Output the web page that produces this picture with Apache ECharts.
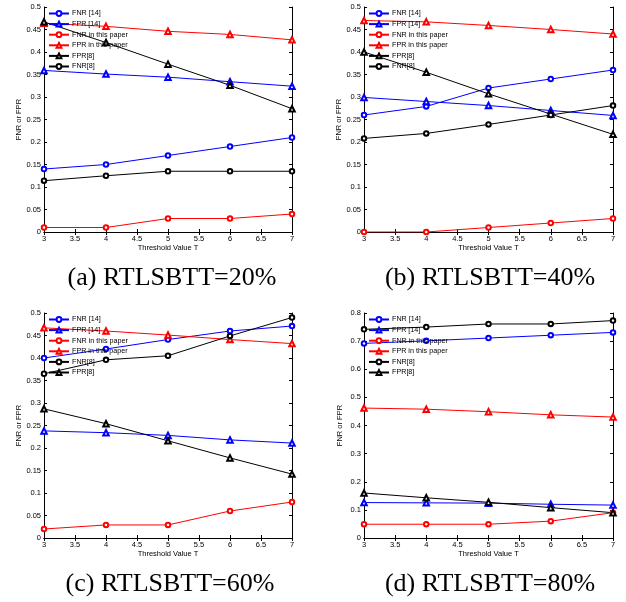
<!DOCTYPE html>
<html><head><meta charset="utf-8">
<script src="https://cdn.jsdelivr.net/npm/echarts@6/dist/echarts.min.js"></script>
<style>html,body{margin:0;padding:0;background:#fff}#c{width:626px;height:602px}</style>
</head><body><div id="c"></div>
<script>
const xValues = [3, 4, 5, 6, 7];
const xTicks = [3, 3.5, 4, 4.5, 5, 5.5, 6, 6.5, 7];
const captions = ['(a) RTLSBTT=20%', '(b) RTLSBTT=40%', '(c) RTLSBTT=60%', '(d) RTLSBTT=80%'];

// Panel (a) RTLSBTT=20%
const a_fnr14 = [0.14, 0.15, 0.17, 0.19, 0.21];
const a_fpr14 = [0.359, 0.351, 0.344, 0.334, 0.324];
const a_fnrPaper = [0.01, 0.01, 0.03, 0.03, 0.04];
const a_fprPaper = [0.464, 0.457, 0.446, 0.439, 0.427];
const a_fpr8 = [0.467, 0.421, 0.373, 0.326, 0.274];
const a_fnr8 = [0.114, 0.125, 0.135, 0.135, 0.135];

// Panel (b) RTLSBTT=40%
const b_fnr14 = [0.26, 0.279, 0.32, 0.34, 0.36];
const b_fpr14 = [0.299, 0.29, 0.281, 0.27, 0.259];
const b_fnrPaper = [0, 0, 0.01, 0.02, 0.03];
const b_fprPaper = [0.47, 0.467, 0.459, 0.45, 0.44];
const b_fpr8 = [0.4, 0.355, 0.307, 0.262, 0.217];
const b_fnr8 = [0.208, 0.219, 0.239, 0.26, 0.281];

// Panel (c) RTLSBTT=60%
const c_fnr14 = [0.4, 0.42, 0.441, 0.46, 0.471];
const c_fpr14 = [0.238, 0.234, 0.228, 0.218, 0.211];
const c_fnrPaper = [0.02, 0.029, 0.029, 0.06, 0.08];
const c_fprPaper = [0.467, 0.46, 0.451, 0.441, 0.432];
const c_fnr8 = [0.365, 0.396, 0.405, 0.449, 0.49];
const c_fpr8 = [0.287, 0.254, 0.216, 0.178, 0.142];

// Panel (d) RTLSBTT=80%
const d_fnr14 = [0.692, 0.701, 0.711, 0.721, 0.731];
const d_fpr14 = [0.126, 0.125, 0.124, 0.12, 0.117];
const d_fnrPaper = [0.049, 0.049, 0.049, 0.06, 0.09];
const d_fprPaper = [0.462, 0.458, 0.449, 0.438, 0.43];
const d_fnr8 = [0.742, 0.75, 0.761, 0.761, 0.773];
const d_fpr8 = [0.16, 0.143, 0.127, 0.108, 0.09];

const yMax = [0.5, 0.5, 0.5, 0.8];
const yStep = [0.05, 0.05, 0.05, 0.1];

const N_FNR14 = 'FNR [14]', N_FPR14 = 'FPR [14]', N_FNRP = 'FNR in this paper', N_FPRP = 'FPR in this paper', N_FPR8 = 'FPR[8]', N_FNR8 = 'FNR[8]';

const panels = [
  {data: [[N_FNR14, a_fnr14], [N_FPR14, a_fpr14], [N_FNRP, a_fnrPaper], [N_FPRP, a_fprPaper], [N_FPR8, a_fpr8], [N_FNR8, a_fnr8]]},
  {data: [[N_FNR14, b_fnr14], [N_FPR14, b_fpr14], [N_FNRP, b_fnrPaper], [N_FPRP, b_fprPaper], [N_FPR8, b_fpr8], [N_FNR8, b_fnr8]]},
  {data: [[N_FNR14, c_fnr14], [N_FPR14, c_fpr14], [N_FNRP, c_fnrPaper], [N_FPRP, c_fprPaper], [N_FNR8, c_fnr8], [N_FPR8, c_fpr8]]},
  {data: [[N_FNR14, d_fnr14], [N_FPR14, d_fpr14], [N_FNRP, d_fnrPaper], [N_FPRP, d_fprPaper], [N_FNR8, d_fnr8], [N_FPR8, d_fpr8]]}
];

const styleOf = {
  [N_FNR14]: ['#0000ff', 'emptyCircle', 4.5],
  [N_FPR14]: ['#0000ff', 'emptyTriangle', 5.5],
  [N_FNRP]: ['#ff0000', 'emptyCircle', 4.5],
  [N_FPRP]: ['#ff0000', 'emptyTriangle', 5.5],
  [N_FPR8]: ['#000000', 'emptyTriangle', 5.5],
  [N_FNR8]: ['#000000', 'emptyCircle', 4.5]
};

const grids = [
  {left: 44, top: 7, width: 248, height: 225},
  {left: 364, top: 7, width: 249, height: 225},
  {left: 44, top: 313, width: 248, height: 225},
  {left: 364, top: 313, width: 249, height: 225}
];
const captionCenters = [172, 490, 170, 490];

const font = 'Liberation Sans, Arial, sans-serif';
const option = {
  animation: false,
  backgroundColor: '#fff',
  grid: grids.map(g => Object.assign({containLabel: false}, g)),
  xAxis: [], yAxis: [], series: [], legend: [], graphic: []
};

grids.forEach((g, i) => {
  const axLine = {show: true, lineStyle: {color: '#000', width: 1}};
  option.xAxis.push({
    type: 'value', gridIndex: i, min: 3, max: 7, interval: 0.5, position: 'bottom',
    name: 'Threshold Value T', nameLocation: 'middle', nameGap: 12,
    nameTextStyle: {fontFamily: font, fontSize: 7.5, color: '#000'},
    axisLine: axLine, axisTick: {inside: true, length: 3, lineStyle: {color: '#000'}},
    axisLabel: {fontFamily: font, fontSize: 7.5, color: '#000', margin: 3},
    splitLine: {show: false}
  });
  option.xAxis.push({
    type: 'value', gridIndex: i, min: 3, max: 7, interval: 0.5, position: 'top',
    axisLine: axLine, axisTick: {inside: true, length: 3, lineStyle: {color: '#000'}},
    axisLabel: {show: false}, splitLine: {show: false}
  });
  option.yAxis.push({
    type: 'value', gridIndex: i, min: 0, max: yMax[i], interval: yStep[i], position: 'left',
    name: 'FNR or FPR', nameLocation: 'middle', nameGap: 20,
    nameTextStyle: {fontFamily: font, fontSize: 7.5, color: '#000'},
    axisLine: axLine, axisTick: {inside: true, length: 3, lineStyle: {color: '#000'}},
    axisLabel: {fontFamily: font, fontSize: 7.5, color: '#000', margin: 3},
    splitLine: {show: false}
  });
  option.yAxis.push({
    type: 'value', gridIndex: i, min: 0, max: yMax[i], interval: yStep[i], position: 'right',
    axisLine: axLine, axisTick: {inside: true, length: 3, lineStyle: {color: '#000'}},
    axisLabel: {show: false}, splitLine: {show: false}
  });
  const names = [];
  panels[i].data.forEach(([name, vals]) => {
    const st = styleOf[name];
    names.push(name);
    option.series.push({
      type: 'line', name: name, xAxisIndex: i * 2, yAxisIndex: i * 2,
      data: xValues.map((x, k) => [x, vals[k]]),
      symbol: st[1], symbolSize: st[2],
      lineStyle: {color: st[0], width: 1},
      itemStyle: {color: st[0], borderColor: st[0], borderWidth: 0.9},
      showSymbol: true, silent: true, z: 3
    });
  });
  option.legend.push({
    data: names, orient: 'vertical', left: g.left + 4, top: g.top + 3,
    itemWidth: 20, itemHeight: 6, itemGap: 3.6, padding: 0,
    textStyle: {fontFamily: font, fontSize: 7.2, color: '#000', padding: [0, 0, 0, -2]},
    selectedMode: false
  });
  option.graphic.push({
    type: 'text',
    x: captionCenters[i],
    y: g.top + g.height + 46,
    style: {text: captions[i], font: '26px "Liberation Serif", "Times New Roman", serif', fill: '#000', textAlign: 'center', textVerticalAlign: 'middle'}
  });
});

echarts.init(document.getElementById('c'), null, {renderer: 'canvas'}).setOption(option);
</script>
</body></html>
